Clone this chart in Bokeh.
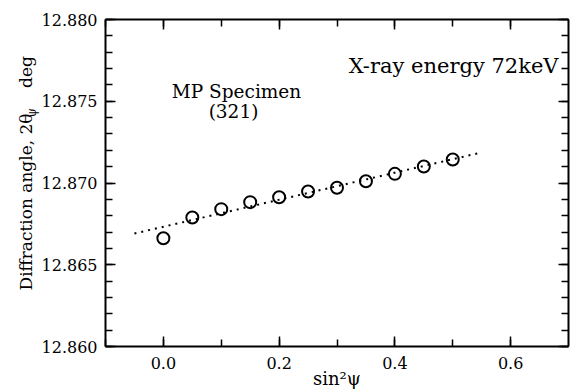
from bokeh.plotting import figure
from bokeh.models import (Range1d, LinearAxis, SingleIntervalTicker, PrintfTickFormatter,
                          CustomJSTickFormatter, Label, Title)
from bokeh.embed import file_html
from bokeh.resources import INLINE

# data
sin2psi = [0.0, 0.05, 0.10, 0.15, 0.20, 0.25, 0.30, 0.35, 0.40, 0.45, 0.50]
two_theta = [12.86662, 12.86789, 12.86840, 12.86883, 12.86913, 12.86948,
             12.86971, 12.87011, 12.87056, 12.87101, 12.87144]
fit_x = [-0.05, 0.55]
fit_y = [12.86691, 12.87187]
x_lo, x_hi = -0.1, 0.7
y_lo, y_hi = 12.860, 12.880

FONT = "DejaVu Serif"

p = figure(width=574, height=391, output_backend="svg", toolbar_location=None,
           x_range=Range1d(x_lo, x_hi), y_range=Range1d(y_lo, y_hi),
           x_axis_type=None, y_axis_type=None,
           min_border_left=105, min_border_right=6, min_border_top=19, min_border_bottom=45)
p.outline_line_color = None
p.background_fill_color = "white"
p.border_fill_color = "white"
p.xgrid.visible = False
p.ygrid.visible = False

blank = CustomJSTickFormatter(code="return ''")


def xticker():
    return SingleIntervalTicker(interval=0.2, num_minor_ticks=2)


def yticker():
    return SingleIntervalTicker(interval=0.005, num_minor_ticks=5)


def style(ax):
    ax.axis_line_width = 2
    ax.axis_line_color = "black"
    ax.major_tick_in = 10
    ax.major_tick_out = 0
    ax.minor_tick_in = 7
    ax.minor_tick_out = 0
    ax.major_tick_line_width = 1.5
    ax.minor_tick_line_width = 1.5
    ax.major_tick_line_color = "black"
    ax.minor_tick_line_color = "black"
    ax.major_label_text_font = FONT
    ax.major_label_text_font_size = "16px"
    ax.major_label_text_color = "black"
    ax.axis_label_text_font = FONT
    ax.axis_label_text_font_style = "normal"
    ax.axis_label_text_color = "black"


xb = LinearAxis(ticker=xticker(), formatter=PrintfTickFormatter(format="%.1f"))
style(xb)
xb.major_label_standoff = 10
xb.axis_label = "sin²ψ"
xb.axis_label_text_font_size = "18px"
xb.axis_label_standoff = -4

xt = LinearAxis(ticker=xticker(), formatter=blank)
style(xt)
xt.major_label_standoff = 0

yl = LinearAxis(ticker=yticker(), formatter=PrintfTickFormatter(format="%.3f"))
style(yl)
yl.major_label_standoff = 8

yr = LinearAxis(ticker=yticker(), formatter=blank)
style(yr)
yr.major_label_standoff = 0

p.add_layout(xb, "below")
p.add_layout(xt, "above")
p.add_layout(yl, "left")
p.add_layout(yr, "right")

t_psi = Title(text="ψ", text_font=FONT, text_font_size="12px", text_font_style="normal",
              text_color="black", align="left", offset=229, standoff=0)
t_main = Title(text="Diffraction angle, 2θ\u2003\u2002deg", text_font=FONT, text_font_size="17px",
               text_font_style="normal", text_color="black", align="left", offset=56, standoff=-26)
p.add_layout(t_psi, "left")
p.add_layout(t_main, "left")

p.line(fit_x, fit_y, line_color="black", line_width=2, line_dash="2 5")
p.scatter(sin2psi, two_theta, marker="circle", size=12, fill_color=None,
          line_color="black", line_width=2)


def lab(text, x, y, size, align="left"):
    p.add_layout(Label(x=x, y=y, x_units="screen", y_units="screen", text=text,
                       text_font=FONT, text_font_size=size, text_color="black",
                       text_align=align, text_baseline="alphabetic"))


lab("MP Specimen", 131, 255, "18.5px", "center")
lab("(321)", 128, 235, "18.5px", "center")
lab("X-ray energy 72keV", 453, 281, "21px", "right")

open("out.html", "w").write(file_html(p, INLINE))
